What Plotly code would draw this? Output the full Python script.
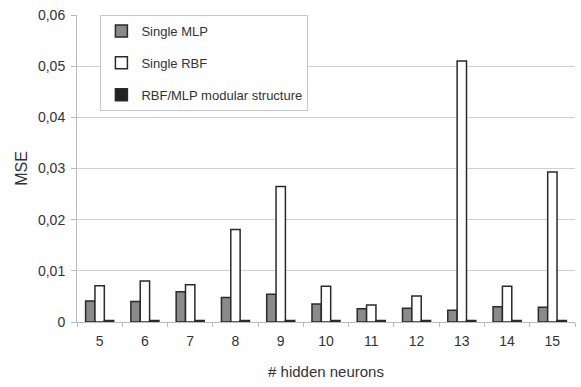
import plotly.graph_objects as go

categories = ["5", "6", "7", "8", "9", "10", "11", "12", "13", "14", "15"]
single_mlp = [0.0041, 0.0040, 0.0059, 0.0048, 0.0054, 0.0035, 0.0026, 0.0027, 0.0023, 0.0030, 0.0029]
single_rbf = [0.0071, 0.0080, 0.0073, 0.0181, 0.0265, 0.0070, 0.0033, 0.0051, 0.0510, 0.0070, 0.0293]
modular = [0.0003, 0.0003, 0.0003, 0.0003, 0.0003, 0.0003, 0.0003, 0.0003, 0.0003, 0.0003, 0.0003]
y_tickvals = [0, 0.01, 0.02, 0.03, 0.04, 0.05, 0.06]
y_ticktext = ["0", "0,01", "0,02", "0,03", "0,04", "0,05", "0,06"]

font = "Liberation Sans, Arial, sans-serif"
fig = go.Figure()
series = [
    ("Single MLP", single_mlp, "#8a8a8a"),
    ("Single RBF", single_rbf, "#ffffff"),
    ("RBF/MLP modular structure", modular, "#222222"),
]
for i, (name, vals, col) in enumerate(series):
    fig.add_trace(go.Bar(
        x=categories, y=vals, name=name, legendgroup=f"g{i}",
        marker=dict(color=col, line=dict(color="#2a2a2a", width=1.5)),
    ))

fig.update_layout(
    width=581, height=387,
    margin=dict(l=77, r=6, t=15, b=65),
    paper_bgcolor="white", plot_bgcolor="white",
    barmode="group", bargap=0.38, bargroupgap=0.0,
    font=dict(family=font, size=13, color="#333333"),
    showlegend=True,
    legend=dict(
        x=0.047, y=1.0, xanchor="left", yanchor="top",
        bgcolor="white", bordercolor="#c8c8c8", borderwidth=1,
        font=dict(size=13, color="#333333"),
        tracegroupgap=12, traceorder="grouped",
        itemwidth=30,
    ),
    xaxis=dict(
        type="category", showgrid=False,
        ticks="outside", tickson="boundaries", ticklen=4, tickcolor="#bbbbbb",
        showline=True, linecolor="#bbbbbb",
        ticklabelstandoff=6,
        title=dict(text="# hidden neurons", font=dict(size=15), standoff=18),
        tickfont=dict(size=14),
    ),
    yaxis=dict(
        range=[0, 0.06], tickvals=y_tickvals, ticktext=y_ticktext,
        showgrid=True, gridcolor="#cfcfcf", gridwidth=1,
        showline=True, linecolor="#bbbbbb", ticks="outside", ticklen=5, tickcolor="#bbbbbb",
        zeroline=False, ticklabelstandoff=3,
        title=dict(text="MSE", font=dict(size=16), standoff=6),
        tickfont=dict(size=14),
    ),
)
fig.write_html("out.html", config={"displayModeBar": False},
               post_script="document.body.style.margin='0';")
